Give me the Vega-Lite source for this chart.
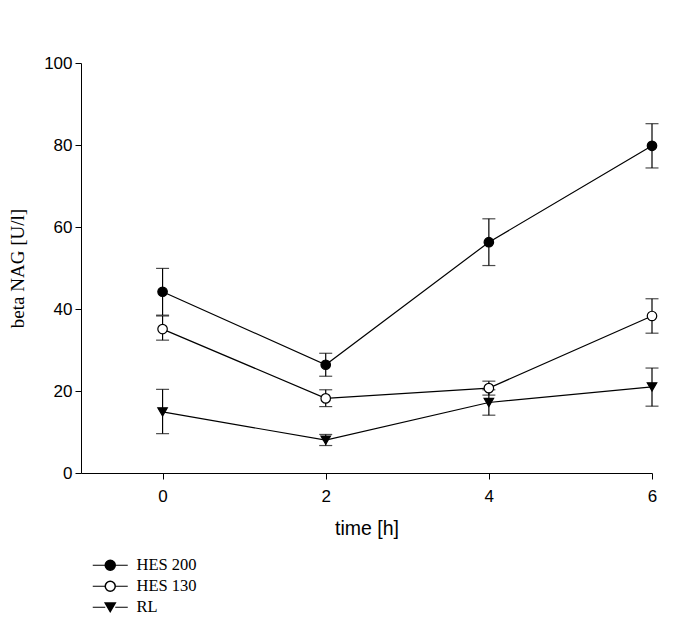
{
  "$schema": "https://vega.github.io/schema/vega-lite/v6.json",
  "width": 571,
  "height": 410,
  "autosize": "none",
  "padding": {"left": 81, "top": 63, "right": 33, "bottom": 159},
  "background": "white",
  "config": {
    "view": {"stroke": null},
    "axis": {
      "grid": false,
      "domainColor": "black",
      "tickColor": "black",
      "labelColor": "black",
      "titleColor": "black",
      "labelFont": "Liberation Sans",
      "labelFontSize": 17,
      "tickSize": 6,
      "domainWidth": 1,
      "tickWidth": 1
    }
  },
  "data": {
    "values": [
      {"time": 0, "group": "HES 200", "mean": 44.2, "lo": 38.5, "hi": 49.9},
      {"time": 2, "group": "HES 200", "mean": 26.4, "lo": 23.6, "hi": 29.2},
      {"time": 4, "group": "HES 200", "mean": 56.3, "lo": 50.6, "hi": 62.0},
      {"time": 6, "group": "HES 200", "mean": 79.8, "lo": 74.4, "hi": 85.2},
      {"time": 0, "group": "HES 130", "mean": 35.1, "lo": 32.4, "hi": 38.3},
      {"time": 2, "group": "HES 130", "mean": 18.2, "lo": 16.2, "hi": 20.3},
      {"time": 4, "group": "HES 130", "mean": 20.7, "lo": 19.0, "hi": 22.4},
      {"time": 6, "group": "HES 130", "mean": 38.3, "lo": 34.1, "hi": 42.5},
      {"time": 0, "group": "RL", "mean": 14.9, "lo": 9.6, "hi": 20.4},
      {"time": 2, "group": "RL", "mean": 8.0, "lo": 6.7, "hi": 9.4},
      {"time": 4, "group": "RL", "mean": 17.2, "lo": 14.1, "hi": 20.3},
      {"time": 6, "group": "RL", "mean": 21.0, "lo": 16.3, "hi": 25.6}
    ]
  },
  "encoding": {
    "x": {
      "field": "time",
      "type": "quantitative",
      "scale": {"domain": [-1, 6], "nice": false, "zero": false},
      "axis": {
        "values": [0, 2, 4, 6],
        "title": "time [h]",
        "titleFont": "Liberation Sans",
        "titleFontSize": 19.5,
        "titleFontWeight": "normal",
        "titlePadding": 15,
        "labelPadding": 9,
        "labelFlush": false
      }
    }
  },
  "layer": [
    {
      "mark": {"type": "rule", "color": "black", "strokeWidth": 1.2},
      "encoding": {
        "y": {"field": "lo", "type": "quantitative"},
        "y2": {"field": "hi"}
      }
    },
    {
      "mark": {"type": "tick", "orient": "horizontal", "color": "black", "size": 13, "thickness": 1.2},
      "encoding": {"y": {"field": "lo", "type": "quantitative"}}
    },
    {
      "mark": {"type": "tick", "orient": "horizontal", "color": "black", "size": 13, "thickness": 1.2},
      "encoding": {"y": {"field": "hi", "type": "quantitative"}}
    },
    {
      "mark": {"type": "line", "strokeWidth": 1.2},
      "encoding": {
        "y": {"field": "mean", "type": "quantitative"},
        "stroke": {
          "field": "group",
          "type": "nominal",
          "scale": {"domain": ["RL", "HES 130", "HES 200"], "range": ["black", "black", "black"]},
          "legend": {
            "title": null,
            "orient": "none",
            "legendX": 21,
            "legendY": 494,
            "values": ["HES 200", "HES 130", "RL"],
            "labelFont": "Liberation Serif",
            "labelFontSize": 16.5,
            "labelColor": "black",
            "symbolType": "M-3.5,0H-1M1,0H3.5",
            "symbolSize": 100,
            "symbolStrokeWidth": 1.2,
            "labelOffset": 18,
            "rowPadding": 4
          }
        }
      }
    },
    {
      "mark": {"type": "point", "filled": true, "stroke": "black", "strokeWidth": 1.2, "size": 90, "opacity": 1},
      "encoding": {
        "y": {
          "field": "mean",
          "type": "quantitative",
          "scale": {"domain": [0, 100], "nice": false},
          "axis": {
            "values": [0, 20, 40, 60, 80, 100],
            "title": "beta NAG [U/l]",
            "titleFont": "Liberation Serif",
            "titleFontSize": 19,
            "titleFontWeight": "normal",
            "titlePadding": 16,
            "labelPadding": 3
          }
        },
        "shape": {
          "field": "group",
          "type": "nominal",
          "scale": {"domain": ["HES 200", "HES 130", "RL"], "range": ["circle", "circle", "triangle-down"]},
          "legend": {
            "title": null,
            "orient": "none",
            "legendX": 21,
            "legendY": 494,
            "labelFont": "Liberation Serif",
            "labelFontSize": 16.5,
            "labelOpacity": 0,
            "symbolSize": 100,
            "labelOffset": 18,
            "rowPadding": 4,
            "encode": {
              "symbols": {
                "stroke": {"value": "black"},
                "strokeWidth": {"value": 1.2}
              }
            }
          }
        },
        "fill": {
          "field": "group",
          "type": "nominal",
          "scale": {"domain": ["HES 200", "HES 130", "RL"], "range": ["black", "white", "black"]},
          "legend": null
        }
      }
    }
  ]
}
